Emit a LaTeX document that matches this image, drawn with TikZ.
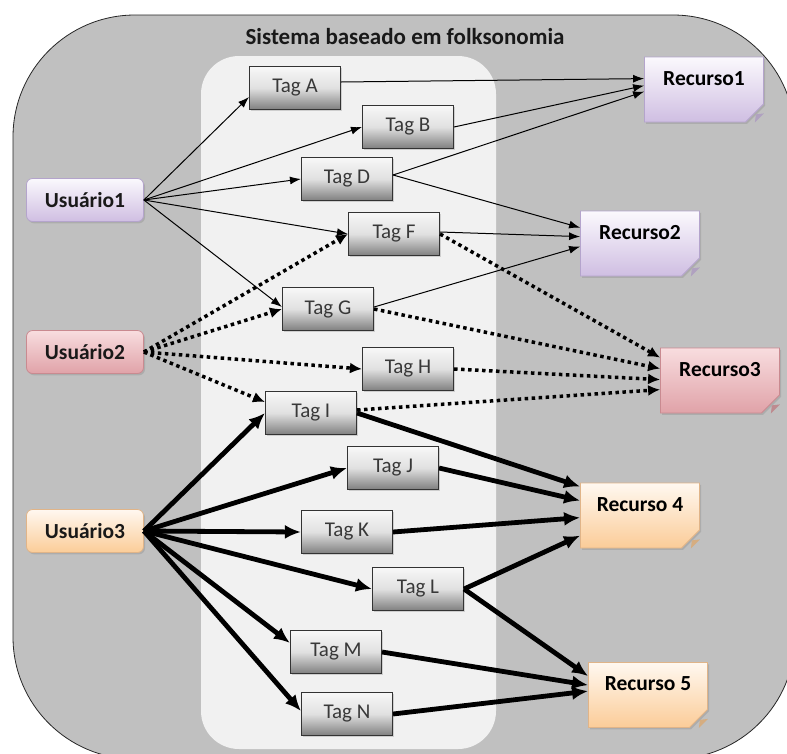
\documentclass[tikz,border=0pt]{standalone}
\usepackage{fontspec}
\setmainfont{Carlito}
\usetikzlibrary{arrows.meta,shapes.misc,shadows,calc}
\definecolor{outerg}{HTML}{C0C0C0}
\definecolor{panelg}{HTML}{F1F1F1}
\definecolor{lavtop}{HTML}{FBF9FD}
\definecolor{lavbot}{HTML}{CFBEE2}
\definecolor{lavdraw}{HTML}{B4A4CC}
\definecolor{pinktop}{HTML}{F8DDDF}
\definecolor{pinkbot}{HTML}{E0A2A8}
\definecolor{pinkdraw}{HTML}{C98A90}
\definecolor{peachtop}{HTML}{FFF8F0}
\definecolor{peachbot}{HTML}{FBCC98}
\definecolor{peachdraw}{HTML}{E0B488}
\begin{document}
\begin{tikzpicture}[x=1pt,y=-1pt,
  shad/.style={drop shadow={shadow xshift=1.5pt,shadow yshift=-1.8pt,opacity=0.3}},
  tagbox/.style={shad,draw=black!80,line width=1.1pt,minimum width=91pt,minimum height=43pt,inner sep=0pt,
    top color=white!97!black,bottom color=black!50,middle color=black!12,
    font=\fontsize{21}{25}\selectfont,text=black!78},
  userbox/.style={shad,rounded corners=6pt,line width=0.8pt,minimum width=117pt,minimum height=43pt,inner sep=0pt,
    font=\fontsize{21.5}{25}\selectfont\bfseries,text=black!90},
  resbox/.style={shad,chamfered rectangle,chamfered rectangle corners=south east,
    chamfered rectangle xsep=9pt,chamfered rectangle ysep=9pt,line width=0.8pt,
    minimum width=119pt,minimum height=65pt,inner sep=0pt,text height=14pt,text depth=23pt,
    font=\fontsize{21.5}{25}\selectfont\bfseries,text=black},
  lav/.style={draw=lavdraw,top color=lavtop,bottom color=lavbot},
  pink/.style={draw=pinkdraw,top color=pinktop,bottom color=pinkbot},
  peach/.style={draw=peachdraw,top color=peachtop,bottom color=peachbot},
  thinarrow/.style={line width=1pt,-{Latex[length=11pt,width=8pt]}},
  dotarrow/.style={line width=3.5pt,dash pattern=on 3.5pt off 3.5pt,-{Latex[length=12pt,width=11pt]}},
  thickarrow/.style={line width=4.8pt,-{Latex[length=16pt,width=14pt]}},
]
\useasboundingbox (0,0) rectangle (787,753);
% background shapes
\draw[fill=outerg,draw=black!85,line width=0.8pt,rounded corners=122pt] (13,15) rectangle (795,759);
\fill[panelg,rounded corners=38pt] (201,56) rectangle (496,749);
\node[font=\fontsize{23}{27}\selectfont\bfseries,text=black!90] (title) at (405,37) {Sistema baseado em folksonomia};

% users
\node[userbox,lav] (u1) at (85,200) {Usuário1};
\node[userbox,pink] (u2) at (85,352) {Usuário2};
\node[userbox,peach] (u3) at (85,531) {Usuário3};

% tags
\node[tagbox] (tA) at (295,88) {Tag A};
\node[tagbox] (tB) at (408,127) {Tag B};
\node[tagbox] (tD) at (347,179) {Tag D};
\node[tagbox] (tF) at (394,234) {Tag F};
\node[tagbox] (tG) at (328,309) {Tag G};
\node[tagbox] (tH) at (408,369) {Tag H};
\node[tagbox] (tI) at (311,413) {Tag I};
\node[tagbox] (tJ) at (393,468) {Tag J};
\node[tagbox] (tK) at (347,532) {Tag K};
\node[tagbox] (tL) at (418,589) {Tag L};
\node[tagbox] (tM) at (336,652) {Tag M};
\node[tagbox] (tN) at (347,714) {Tag N};

% resources
\node[resbox,lav] (r1) at (704,89.5) {Recurso1};
\node[resbox,lav] (r2) at (640,243.5) {Recurso2};
\node[resbox,pink] (r3) at (720,380.5) {Recurso3};
\node[resbox,peach] (r4) at (640,515.5) {Recurso 4};
\node[resbox,peach] (r5) at (648,695) {Recurso 5};
\foreach \r/\c in {r1/lavbot,r2/lavbot,r3/pinkbot,r4/peachbot,r5/peachbot}{
  \fill[\c!85!black] ($(\r.east |- \r.south)+(-9pt,0)$) -- ($(\r.east |- \r.south)+(0,9pt)$) -- ($(\r.east |- \r.south)+(-8pt,8pt)$) -- cycle;
}

% Usuario1 (thin)
\draw[thinarrow] (u1.east) -- ([yshift=-9pt]tA.west);
\draw[thinarrow] (u1.east) -- (tB.west);
\draw[thinarrow] (u1.east) -- (tD.west);
\draw[thinarrow] (u1.east) -- (tF.west);
\draw[thinarrow] (u1.east) -- ([yshift=2pt]tG.west);
\draw[thinarrow] ([yshift=6pt]tA.east) -- ($(r1.north -| r1.west)+(0,-22pt)$);
\draw[thinarrow] (tB.east) -- ($(r1.north -| r1.west)+(0,-29pt)$);
\draw[thinarrow] ([yshift=4pt]tD.east) -- ($(r1.north -| r1.west)+(0,-35pt)$);
\draw[thinarrow] ([yshift=4pt]tD.east) -- ($(r2.north -| r2.west)+(0,-17pt)$);
\draw[thinarrow] ([yshift=2pt]tF.east) -- ($(r2.north -| r2.west)+(0,-26pt)$);
\draw[thinarrow] ([yshift=2pt]tG.east) -- ($(r2.north -| r2.west)+(0,-36pt)$);

% Usuario2 (dotted)
\draw[dotarrow] (u2.east) -- (tF.west);
\draw[dotarrow] (u2.east) -- (tG.west);
\draw[dotarrow] (u2.east) -- (tH.west);
\draw[dotarrow] (u2.east) -- ([yshift=11pt]tI.west);
\draw[dotarrow] (tF.east) -- ($(r3.north -| r3.west)+(0,-10pt)$);
\draw[dotarrow] (tG.east) -- ($(r3.north -| r3.west)+(0,-21pt)$);
\draw[dotarrow] (tH.east) -- ($(r3.north -| r3.west)+(0,-32pt)$);
\draw[dotarrow] ([yshift=3pt]tI.east) -- ($(r3.north -| r3.west)+(0,-42pt)$);

% Usuario3 (thick)
\draw[thickarrow] (u3.east) -- (tI.west);
\draw[thickarrow] (u3.east) -- (tJ.west);
\draw[thickarrow] (u3.east) -- (tK.west);
\draw[thickarrow] (u3.east) -- (tL.west);
\draw[thickarrow] (u3.east) -- ([yshift=9pt]tM.west);
\draw[thickarrow] (u3.east) -- ([yshift=3pt]tN.west);
\draw[thickarrow] (tI.east) -- ($(r4.north -| r4.west)+(0,-4pt)$);
\draw[thickarrow] (tJ.east) -- ($(r4.north -| r4.west)+(0,-18pt)$);
\draw[thickarrow] (tK.east) -- ($(r4.north -| r4.west)+(0,-35pt)$);
\draw[thickarrow] (tL.east) -- ($(r4.north -| r4.west)+(0,-53pt)$);
\draw[thickarrow] (tL.east) -- ($(r5.north -| r5.west)+(0,-14pt)$);
\draw[thickarrow] (tM.east) -- ($(r5.north -| r5.west)+(0,-23pt)$);
\draw[thickarrow] (tN.east) -- ($(r5.north -| r5.west)+(0,-29pt)$);
\end{tikzpicture}
\end{document}
